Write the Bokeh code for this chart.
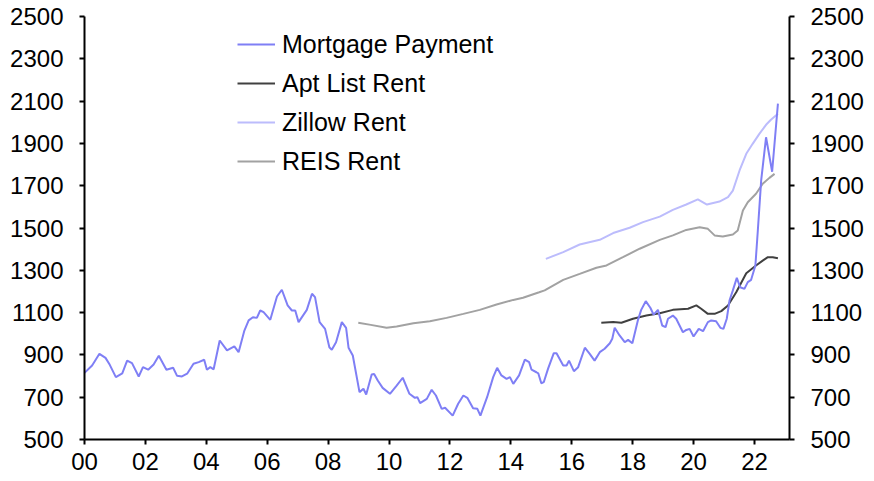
from bokeh.plotting import figure
from bokeh.models import LinearAxis, Range1d, FixedTicker, Legend, LegendItem
from bokeh.embed import file_html
from bokeh.resources import INLINE

# ---- data (decimal years, USD/month) ----
mortgage_x = [2000.00, 2000.25, 2000.49, 2000.69, 2000.83, 2001.03, 2001.24, 2001.40, 2001.56, 2001.78,
              2001.92, 2002.09, 2002.27, 2002.44, 2002.69, 2002.91, 2003.04, 2003.20, 2003.37, 2003.58,
              2003.75, 2003.93, 2004.02, 2004.13, 2004.24, 2004.44, 2004.68, 2004.92, 2005.06, 2005.25,
              2005.39, 2005.53, 2005.66, 2005.77, 2005.88, 2006.10, 2006.32, 2006.48, 2006.67, 2006.81,
              2006.92, 2007.03, 2007.30, 2007.47, 2007.57, 2007.72, 2007.90, 2008.04, 2008.12, 2008.26,
              2008.45, 2008.59, 2008.67, 2008.81, 2009.03, 2009.16, 2009.25, 2009.43, 2009.51, 2009.63,
              2009.79, 2010.03, 2010.25, 2010.45, 2010.67, 2010.85, 2010.93, 2011.02, 2011.24, 2011.40,
              2011.54, 2011.73, 2011.84, 2012.09, 2012.27, 2012.44, 2012.57, 2012.76, 2012.90, 2013.00,
              2013.22, 2013.42, 2013.55, 2013.69, 2013.86, 2013.97, 2014.08, 2014.27, 2014.46, 2014.60,
              2014.68, 2014.84, 2014.90, 2015.00, 2015.08, 2015.22, 2015.41, 2015.50, 2015.72, 2015.83,
              2015.91, 2016.07, 2016.21, 2016.43, 2016.59, 2016.75, 2016.92, 2017.08, 2017.25, 2017.33,
              2017.41, 2017.57, 2017.74, 2017.85, 2017.99, 2018.17, 2018.28, 2018.43, 2018.58, 2018.69,
              2018.83, 2018.97, 2019.08, 2019.16, 2019.32, 2019.43, 2019.65, 2019.76, 2019.87, 2020.00,
              2020.17, 2020.31, 2020.47, 2020.58, 2020.74, 2020.88, 2020.98, 2021.09, 2021.18, 2021.29,
              2021.42, 2021.53, 2021.67, 2021.78, 2021.89, 2022.03, 2022.11, 2022.22, 2022.38, 2022.58,
              2022.77]
mortgage_y = [815, 850, 905, 886, 853, 795, 813, 873, 861, 798,
              842, 830, 855, 896, 830, 839, 801, 798, 811, 858,
              866, 877, 830, 842, 832, 968, 921, 940, 913, 1015,
              1063, 1078, 1075, 1110, 1102, 1066, 1176, 1208, 1134, 1110,
              1110, 1055, 1113, 1189, 1173, 1055, 1023, 936, 924, 960,
              1055, 1028, 934, 897, 724, 740, 713, 807, 810, 779,
              744, 716, 755, 792, 716, 697, 700, 672, 692, 735,
              708, 645, 650, 613, 669, 708, 697, 648, 645, 613,
              700, 795, 839, 803, 787, 795, 763, 803, 878, 866,
              830, 818, 813, 766, 771, 834, 908, 908, 850, 850,
              873, 823, 842, 934, 905, 873, 913, 929, 955, 976,
              1028, 992, 960, 971, 955, 1063, 1113, 1154, 1123, 1090,
              1113, 1039, 1031, 1071, 1086, 1071, 1007, 1018, 1023, 987,
              1023, 1012, 1055, 1063, 1059, 1028, 1023, 1071, 1157, 1205,
              1264, 1220, 1212, 1244, 1255, 1323, 1488, 1725, 1929, 1766,
              2088]

aptlist_x = [2016.97, 2017.36, 2017.63, 2018.01, 2018.45, 2018.89, 2019.32, 2019.82, 2020.09, 2020.25,
             2020.47, 2020.69, 2020.91, 2021.13, 2021.40, 2021.73, 2022.05, 2022.27, 2022.44, 2022.60,
             2022.77]
aptlist_y = [1052, 1055, 1052, 1071, 1086, 1097, 1113, 1118, 1134, 1118,
             1094, 1094, 1107, 1134, 1196, 1286, 1323, 1346, 1362, 1362,
             1357]

zillow_x = [2015.15, 2015.72, 2016.26, 2016.92, 2017.36, 2017.90, 2018.34, 2018.89, 2019.32, 2019.76,
            2020.14, 2020.44, 2020.85, 2021.13, 2021.29, 2021.51, 2021.73, 2021.94, 2022.16, 2022.38,
            2022.54, 2022.77]
zillow_y = [1354, 1386, 1422, 1444, 1476, 1501, 1528, 1554, 1586, 1611,
            1635, 1611, 1625, 1646, 1677, 1772, 1851, 1898, 1945, 1988,
            2012, 2040]

reis_x = [2008.99, 2009.40, 2009.92, 2010.25, 2010.80, 2011.34, 2011.89, 2012.44, 2012.98, 2013.53,
          2014.08, 2014.40, 2014.93, 2015.11, 2015.72, 2016.26, 2016.81, 2017.14, 2017.68, 2018.23,
          2018.89, 2019.32, 2019.76, 2020.20, 2020.47, 2020.69, 2020.96, 2021.29, 2021.45, 2021.62,
          2021.78, 2022.05, 2022.27, 2022.49, 2022.66]
reis_y = [1052, 1042, 1028, 1034, 1050, 1059, 1075, 1094, 1113, 1138,
          1160, 1170, 1196, 1205, 1255, 1283, 1312, 1323, 1362, 1402,
          1444, 1465, 1491, 1504, 1496, 1465, 1460, 1469, 1488, 1583,
          1622, 1662, 1709, 1737, 1756]

x_ticks = [2000, 2002, 2004, 2006, 2008, 2010, 2012, 2014, 2016, 2018, 2020, 2022]
x_tick_labels = ["00", "02", "04", "06", "08", "10", "12", "14", "16", "18", "20", "22"]
y_ticks = [500, 700, 900, 1100, 1300, 1500, 1700, 1900, 2100, 2300, 2500]

series_names = ["Mortgage Payment", "Apt List Rent", "Zillow Rent", "REIS Rent"]
series_colors = ["#7f7ff5", "#404040", "#bcbcfc", "#a2a2a2"]

FONT = "Liberation Sans"
FS = "24px"
LEGEND_FS = "25px"

p = figure(width=866, height=477, output_backend="svg", toolbar_location=None,
           x_range=Range1d(2000, 2023.15), y_range=Range1d(500, 2500),
           min_border_left=84, min_border_right=76, min_border_top=16, min_border_bottom=38,
           x_axis_location="below", y_axis_location="left")
p.outline_line_color = None
p.grid.visible = False
p.background_fill_color = "white"
p.border_fill_color = "white"

r_reis = p.line(reis_x, reis_y, line_color=series_colors[3], line_width=2)
r_zil = p.line(zillow_x, zillow_y, line_color=series_colors[2], line_width=2)
r_apt = p.line(aptlist_x, aptlist_y, line_color=series_colors[1], line_width=2)
r_mort = p.line(mortgage_x, mortgage_y, line_color=series_colors[0], line_width=2)

right_axis = LinearAxis()
p.add_layout(right_axis, "right")

for ax in p.yaxis:
    ax.ticker = FixedTicker(ticks=y_ticks)
    ax.major_label_standoff = 16
for ax in p.xaxis:
    ax.ticker = FixedTicker(ticks=x_ticks)
    ax.major_label_overrides = {t: l for t, l in zip(x_ticks, x_tick_labels)}
    ax.major_label_standoff = 8
for ax in p.xaxis + p.yaxis:
    ax.axis_line_color = "black"
    ax.axis_line_width = 2
    ax.major_tick_line_color = "black"
    ax.major_tick_line_width = 2
    ax.major_tick_out = 5
    ax.major_tick_in = 0
    ax.minor_tick_line_color = None
    ax.major_label_text_font = FONT
    ax.major_label_text_font_size = FS
    ax.major_label_text_color = "black"

legend = Legend(items=[LegendItem(label=series_names[0], renderers=[r_mort]),
                       LegendItem(label=series_names[1], renderers=[r_apt]),
                       LegendItem(label=series_names[2], renderers=[r_zil]),
                       LegendItem(label=series_names[3], renderers=[r_reis])],
                location=(153, 263), orientation="vertical",
                label_text_font=FONT, label_text_font_size=LEGEND_FS, label_text_color="black",
                glyph_width=38, glyph_height=30, label_height=30, label_standoff=7,
                spacing=9, padding=0, margin=0,
                border_line_color=None, background_fill_alpha=0)
p.add_layout(legend, "center")

open("out.html", "w").write(file_html(p, INLINE))
